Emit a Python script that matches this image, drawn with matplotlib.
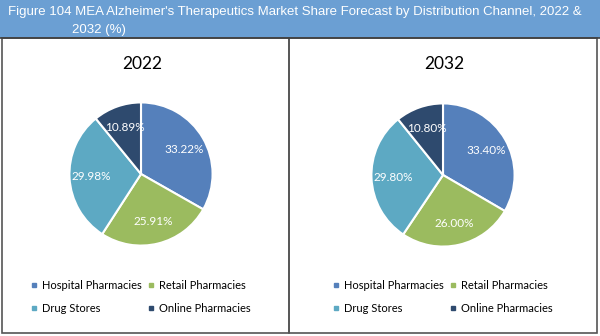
import matplotlib.pyplot as plt
from matplotlib.patches import Rectangle
from matplotlib.lines import Line2D

# --- data ---
channels = ["Hospital Pharmacies", "Retail Pharmacies", "Drug Stores", "Online Pharmacies"]
share_2022 = [33.22, 25.91, 29.98, 10.89]
share_2032 = [33.40, 26.00, 29.80, 10.80]
years = ["2022", "2032"]
colors = ["#5580BB", "#9BBB5F", "#5DA9C3", "#2E4A6E"]

W, H = 600, 336
fig = plt.figure(figsize=(6, 3.36), dpi=100)


def fx(px):
    return px / W


def fy(py):
    # pixel y measured from top
    return 1 - py / H


# title bar
fig.patches.append(Rectangle((0, fy(38)), 1, 38 / H, transform=fig.transFigure,
                             facecolor="#6B9FD3", edgecolor="none", zorder=0))
fig.add_artist(Line2D([0, 1], [fy(38), fy(38)], transform=fig.transFigure,
                      color="#404040", lw=1.2))
fig.text(fx(8), fy(12), "Figure 104 MEA Alzheimer's Therapeutics Market Share Forecast by Distribution Channel, 2022 &",
         color="white", fontsize=9.5, family="Liberation Sans", va="center", ha="left")
fig.text(fx(72), fy(30), "2032 (%)", color="white", fontsize=9.5,
         family="Liberation Sans", va="center", ha="left")

# panel borders
panels = [(2, 289), (289, 597)]
for x0, x1 in panels:
    fig.patches.append(Rectangle((fx(x0), fy(333)), fx(x1 - x0), (333 - 38) / H,
                                 transform=fig.transFigure, facecolor="none",
                                 edgecolor="#555555", lw=1.2))

centers = [(141, 174), (443, 175)]
R = 73
data = [share_2022, share_2032]

for (cx, cy), vals, yr in zip(centers, data, years):
    ax = fig.add_axes([fx(cx - R), fy(cy + R), fx(2 * R), 2 * R / H])
    ax.pie(vals, colors=colors, startangle=90, counterclock=False,
           autopct=lambda p: f"{p:.2f}%", pctdistance=0.69,
           wedgeprops=dict(edgecolor="white", linewidth=1.5),
           textprops=dict(color="white", fontsize=8.5, family="Lato"))
    ax.set_xlim(-1.02, 1.02)
    ax.set_ylim(-1.02, 1.02)
    ax.set_aspect("equal")
    ax.axis("off")

    fig.text(fx(cx + 1), fy(64), yr, ha="center", va="center", fontsize=12.5,
             family="Lato", color="black")

    handles = [Line2D([], [], marker="s", linestyle="none", markersize=3.5,
                      color=c) for c in colors]
    order = [0, 2, 1, 3]
    fig.legend([handles[i] for i in order], [channels[i] for i in order],
               ncol=2, loc="upper left",
               bbox_to_anchor=(fx(cx - 110), fy(280)),
               frameon=False, handlelength=0.6, handletextpad=0.4,
               columnspacing=0.5, labelspacing=1.1,
               prop=dict(family="Lato", size=8), borderpad=0, borderaxespad=0)

fig.savefig("out.png", dpi=100)
